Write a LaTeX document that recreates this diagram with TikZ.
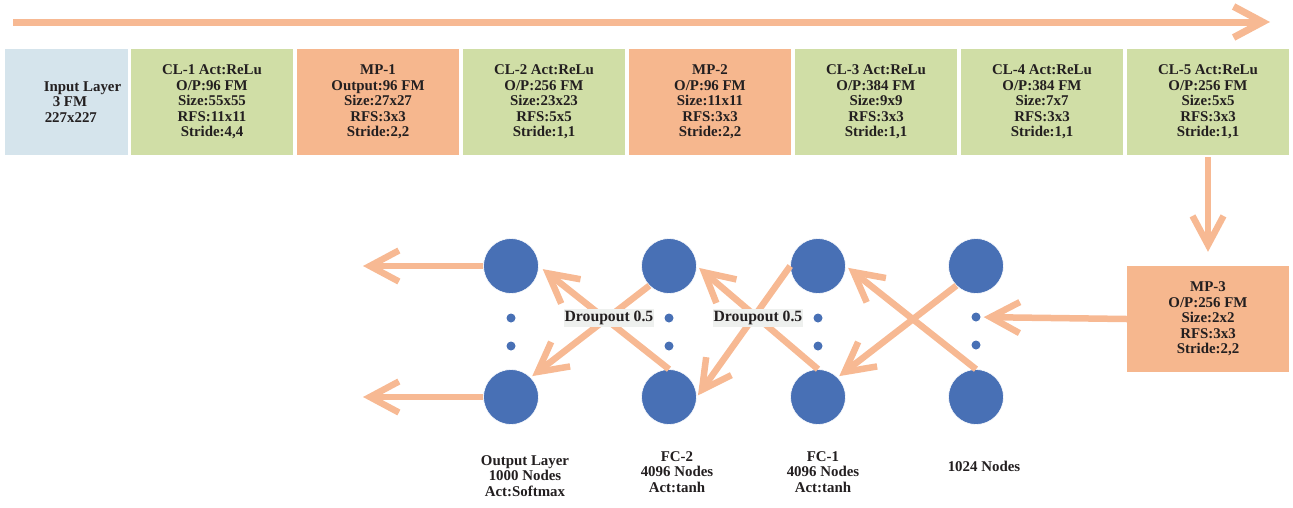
\documentclass[tikz,border=0pt]{standalone}
\usepackage{fontspec}
\setmainfont{Liberation Serif}
\usetikzlibrary{positioning,arrows.meta}

\definecolor{inblue}{RGB}{213,228,236}
\definecolor{clgreen}{RGB}{208,222,166}
\definecolor{mporange}{RGB}{246,183,142}
\definecolor{arrorange}{RGB}{247,185,147}
\definecolor{unitblue}{RGB}{72,112,181}
\definecolor{dropgray}{RGB}{238,240,238}
\definecolor{textgray}{RGB}{35,31,32}

\tikzset{
  layer/.style={rectangle, minimum width=162pt, minimum height=106pt, inner sep=0pt,
    align=center, text=textgray, font=\bfseries\fontsize{14.9}{15.4}\selectfont},
  inlayer/.style={layer, fill=inblue, minimum width=123pt, align=left},
  convlayer/.style={layer, fill=clgreen},
  poollayer/.style={layer, fill=mporange},
  unit/.style={circle, fill=unitblue, draw=white, line width=0.6pt, minimum size=55pt, inner sep=0pt},
  dot/.style={circle, fill=unitblue, minimum size=9pt, inner sep=0pt},
  drop/.style={fill=dropgray, inner xsep=1pt, inner ysep=2.5pt, text=textgray,
    font=\bfseries\fontsize{15.7}{16}\selectfont},
  caption/.style={align=center, text=textgray, font=\bfseries\fontsize{14.9}{15.4}\selectfont},
  flow/.style={draw=arrorange, line width=6.5pt}
}

\begin{document}
\begin{tikzpicture}[x=1pt,y=-1pt,node distance=166pt,on grid,
    >={Straight Barb[length=29pt,width=31pt]}]
  \useasboundingbox (0,0) rectangle (1293,507);

  % layers of the conv part
  \node[inlayer] (b_0) at (66.5,102) {\hspace*{32pt}Input Layer\\\hspace*{41pt}3 FM\\\hspace*{33pt}227x227};
  \node[convlayer] (b_1) [right=145.5pt of b_0] {CL-1 Act:ReLu\\O/P:96 FM\\Size:55x55\\RFS:11x11\\Stride:4,4};
  \node[poollayer] (b_2) [right=of b_1] {MP-1\\Output:96 FM\\Size:27x27\\RFS:3x3\\Stride:2,2};
  \node[convlayer] (b_3) [right=of b_2] {CL-2 Act:ReLu\\O/P:256 FM\\Size:23x23\\RFS:5x5\\Stride:1,1};
  \node[poollayer] (b_4) [right=of b_3] {MP-2\\O/P:96 FM\\Size:11x11\\RFS:3x3\\Stride:2,2};
  \node[convlayer] (b_5) [right=of b_4] {CL-3 Act:ReLu\\O/P:384 FM\\Size:9x9\\RFS:3x3\\Stride:1,1};
  \node[convlayer] (b_6) [right=of b_5] {CL-4 Act:ReLu\\O/P:384 FM\\Size:7x7\\RFS:3x3\\Stride:1,1};
  \node[convlayer] (b_7) [right=of b_6] {CL-5 Act:ReLu\\O/P:256 FM\\Size:5x5\\RFS:3x3\\Stride:1,1};
  \node[poollayer] (b_8) [below=217pt of b_7] {MP-3\\O/P:256 FM\\Size:2x2\\RFS:3x3\\Stride:2,2};

  % fully connected units
  \node[unit] (n_0) at (511,266) {};
  \node[unit] (n_1) [below=131pt of n_0] {};
  \node[unit] (n_2) [right=158pt of n_0] {};
  \node[unit] (n_3) [below=131pt of n_2] {};
  \node[unit] (n_4) [right=149pt of n_2] {};
  \node[unit] (n_5) [below=131pt of n_4] {};
  \node[unit] (n_6) [right=158pt of n_4] {};
  \node[unit] (n_7) [below=131pt of n_6] {};

  \node[dot] (q_0) [below=52pt of n_0] {};
  \node[dot] (q_1) [below=28pt of q_0] {};
  \node[dot] (q_2) [below=52pt of n_2] {};
  \node[dot] (q_3) [below=28pt of q_2] {};
  \node[dot] (q_4) [below=52pt of n_4] {};
  \node[dot] (q_5) [below=28pt of q_4] {};
  \node[dot] (q_6) [below=51pt of n_6] {};
  \node[dot] (q_7) [below=28pt of q_6] {};

  \node[caption] (l_0) [below=79pt of n_1, xshift=14pt] {Output Layer\\1000 Nodes\\Act:Softmax};
  \node[caption] (l_1) [below=75pt of n_3, xshift=8pt] {FC-2\\4096 Nodes\\Act:tanh};
  \node[caption] (l_2) [below=75pt of n_5, xshift=5pt] {FC-1\\4096 Nodes\\Act:tanh};
  \node[caption] (l_3) [below=69pt of n_7, xshift=8pt] {1024 Nodes};

  \coordinate (a_0) at (13,22);
  \coordinate (a_1) at (1270,22);
  \coordinate (o_0) at (363,266);
  \coordinate (o_1) at (363,397);

  \path[->, every edge/.append style={flow}]
    (a_0) edge [line width=7pt] (a_1)
    (b_7.south) edge [shorten <=2pt, shorten >=14pt] (b_8.north)
    (b_8.west) edge [shorten >=3pt] (q_6)
    (n_7.north) edge [shorten >=3pt] (n_4.east)
    (n_6.south west) edge [shorten >=2pt] (n_5.north east)
    (n_5.north) edge [shorten >=3pt] (n_2.east)
    (n_4.west) edge [shorten >=2pt] (n_3.east)
    (n_3.north) edge [shorten >=5pt] (n_0.east)
    (n_2.south west) edge [shorten >=2pt] (n_1.north east)
    (n_0.west) edge (o_0)
    (n_1.west) edge (o_1);

  \node[drop] (r_0) [left=60pt of q_2] {Droupout 0.5};
  \node[drop] (r_1) [left=60pt of q_4] {Droupout 0.5};
\end{tikzpicture}
\end{document}
